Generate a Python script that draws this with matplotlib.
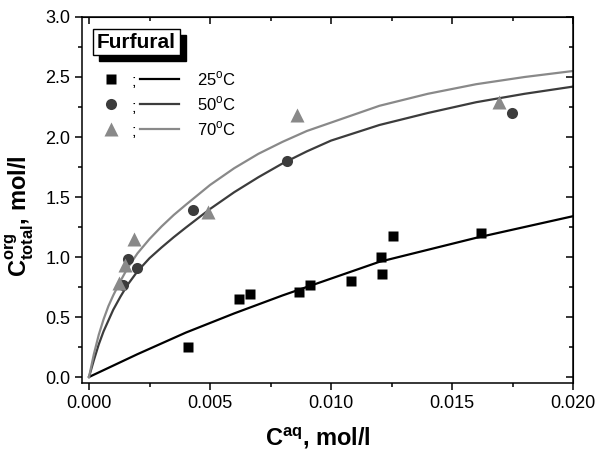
import matplotlib
matplotlib.use("Agg")
import matplotlib.pyplot as plt
from matplotlib.patches import Rectangle
from matplotlib.ticker import MultipleLocator

plt.rcParams['font.family'] = ['Liberation Sans', 'DejaVu Sans']
plt.rcParams['mathtext.fontset'] = 'custom'
plt.rcParams['mathtext.rm'] = 'Liberation Sans'
plt.rcParams['mathtext.bf'] = 'Liberation Sans:bold'

# measured points
x25 = [0.0041, 0.0062, 0.00665, 0.00868, 0.00913, 0.01083, 0.01207, 0.0121, 0.01256, 0.0162]
y25 = [0.25, 0.65, 0.69, 0.71, 0.77, 0.80, 1.00, 0.86, 1.175, 1.20]
x50 = [0.0014, 0.00161, 0.00198, 0.0043, 0.00818, 0.01748]
y50 = [0.77, 0.98, 0.91, 1.39, 1.80, 2.20]
x70 = [0.00124, 0.00149, 0.00186, 0.0049, 0.0086, 0.01694]
y70 = [0.78, 0.93, 1.15, 1.375, 2.18, 2.29]

# fitted curves
xfit25 = [0, 0.002, 0.004, 0.006, 0.008, 0.010, 0.012, 0.014, 0.016, 0.018, 0.020]
yfit25 = [0, 0.19, 0.37, 0.53, 0.68, 0.82, 0.96, 1.06, 1.16, 1.25, 1.34]
xfit = [0, 0.0002, 0.0004, 0.0006, 0.0008, 0.001, 0.0013, 0.0016, 0.002,
        0.0025, 0.003, 0.0035, 0.004, 0.005, 0.006, 0.007, 0.008, 0.009,
        0.010, 0.012, 0.014, 0.016, 0.018, 0.020]
yfit50 = [0, 0.14, 0.27, 0.38, 0.47, 0.56, 0.67, 0.77, 0.88,
          0.99, 1.08, 1.165, 1.245, 1.40, 1.54, 1.665, 1.78, 1.88,
          1.97, 2.10, 2.20, 2.29, 2.36, 2.42]
yfit70 = [0, 0.19, 0.35, 0.48, 0.59, 0.68, 0.80, 0.91, 1.03,
          1.15, 1.255, 1.35, 1.435, 1.60, 1.74, 1.86, 1.96, 2.05,
          2.12, 2.26, 2.36, 2.44, 2.50, 2.55]

labels = ["25$^{\\mathrm{o}}$C", "50$^{\\mathrm{o}}$C", "70$^{\\mathrm{o}}$C"]
c25, c50, c70 = "#000000", "#3c3c3c", "#898989"

fig = plt.figure(figsize=(6.01, 4.58), dpi=100)
ax = fig.add_axes([82 / 601, 1 - 383 / 458, 491 / 601, 366 / 458])

ax.plot(xfit25, yfit25, color=c25, lw=1.6)
ax.plot(xfit, yfit50, color=c50, lw=1.6)
ax.plot(xfit, yfit70, color=c70, lw=1.6)
ax.plot(x50, y50, 'o', color=c50, ms=8, mec='none')
ax.plot(x70, y70, '^', color=c70, ms=9.5, mec='none')
ax.plot(x25, y25, 's', color=c25, ms=7.5, mec='none')

ax.set_xlim(-0.00029, 0.020)
ax.set_ylim(-0.05, 3.0)
ax.xaxis.set_major_locator(MultipleLocator(0.005))
ax.xaxis.set_minor_locator(MultipleLocator(0.0025))
ax.yaxis.set_major_locator(MultipleLocator(0.5))
ax.yaxis.set_minor_locator(MultipleLocator(0.25))
ax.xaxis.set_major_formatter(lambda v, p: f"{v:.3f}")
ax.yaxis.set_major_formatter(lambda v, p: f"{v:.1f}")
ax.tick_params(which='major', direction='out', length=5, width=1.1, labelsize=13)
ax.tick_params(which='minor', direction='out', length=3, width=1.1)
for s in ax.spines.values():
    s.set_linewidth(1.1)

# inward ticks on top and right
top = ax.secondary_xaxis('top')
top.xaxis.set_major_locator(MultipleLocator(0.005))
top.xaxis.set_minor_locator(MultipleLocator(0.0025))
top.tick_params(which='major', direction='in', length=5, width=1.1, labeltop=False)
top.tick_params(which='minor', direction='in', length=3, width=1.1)
right = ax.secondary_yaxis('right')
right.yaxis.set_major_locator(MultipleLocator(0.5))
right.yaxis.set_minor_locator(MultipleLocator(0.25))
right.tick_params(which='major', direction='in', length=5, width=1.1, labelright=False)
right.tick_params(which='minor', direction='in', length=3, width=1.1)

ax.set_xlabel("C$^{\\mathbf{aq}}$, mol/l", fontsize=17, fontweight='bold')
ax.set_ylabel("C$_{\\mathbf{total}}^{\\mathbf{org}}$, mol/l", fontsize=17,
              fontweight='bold')
ax.xaxis.set_label_coords(0.48, -0.115)
ax.yaxis.set_label_coords(-0.094, 0.455)

# title box with shadow
ax.add_patch(Rectangle((0.035, 0.880), 0.177, 0.071, transform=ax.transAxes,
                       facecolor='black', edgecolor='black', clip_on=False))
ax.add_patch(Rectangle((0.0224, 0.896), 0.177, 0.071, transform=ax.transAxes,
                       facecolor='white', edgecolor='black', lw=1.0, clip_on=False))
ax.text(0.111, 0.931, "Furfural", transform=ax.transAxes, fontsize=15,
        fontweight='bold', ha='center', va='center')

# legend rows
rows = [0.831, 0.762, 0.694]
styles = [('s', c25, 7.5), ('o', c50, 8), ('^', c70, 9.5)]
for yy, (m, c, ms), lab in zip(rows, styles, labels):
    ax.plot([0.059], [yy], m, color=c, ms=ms, mec='none', transform=ax.transAxes,
            clip_on=False)
    ax.text(0.100, yy - 0.008, ";", transform=ax.transAxes, fontsize=12,
            va='center', ha='left')
    ax.plot([0.118, 0.198], [yy, yy], color=c, lw=1.6, transform=ax.transAxes)
    ax.text(0.235, yy, lab, transform=ax.transAxes, fontsize=12, va='center',
            ha='left')

fig.savefig("out.png", dpi=100)
